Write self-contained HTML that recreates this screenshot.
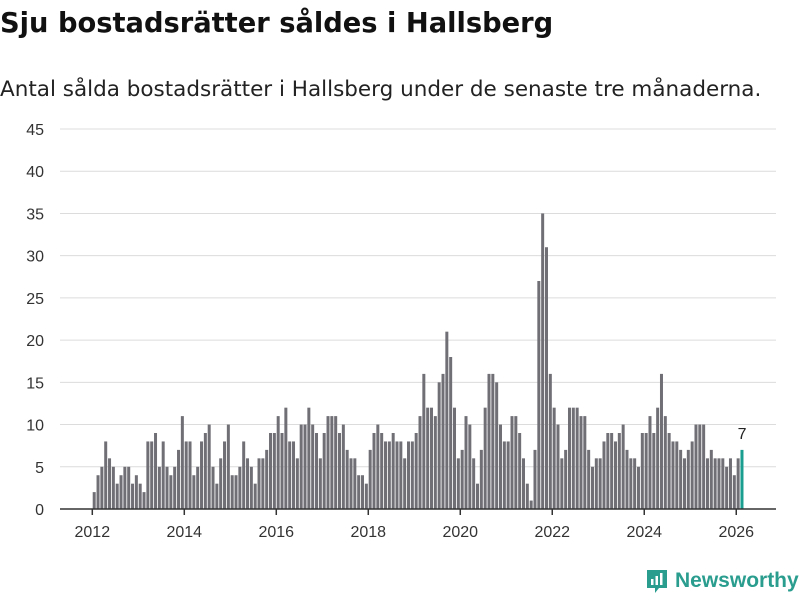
<!DOCTYPE html>
<html><head><meta charset="utf-8">
<style>
body{margin:0;background:#fff;font-family:"Liberation Sans",sans-serif;}
#wrap{position:relative;width:800px;height:600px;overflow:hidden;}
h1{position:absolute;left:0;top:8px;margin:0;font-family:"DejaVu Sans",sans-serif;font-size:27.3px;font-weight:bold;color:#111;}
p.sub{position:absolute;left:0;top:77px;margin:0;font-family:"DejaVu Sans",sans-serif;font-size:21.5px;color:#222;}
#logo{position:absolute;left:645px;top:568px;display:flex;align-items:center;}
#logo span{font-size:21px;font-weight:bold;color:#2a9d8f;margin-left:6px;}
</style></head><body>
<div id="wrap">
<h1>Sju bostadsrätter såldes i Hallsberg</h1>
<p class="sub">Antal sålda bostadsrätter i Hallsberg under de senaste tre månaderna.</p>
<svg id="chart" width="800" height="600" style="position:absolute;left:0;top:0"></svg>
<div id="logo">
<svg width="24" height="26" viewBox="0 0 24 26"><path d="M2 2h20v18h-8l-4 5v-5H2z" fill="#2a9d8f"/><rect x="6" y="11" width="2.5" height="6" fill="#fff"/><rect x="10.5" y="8" width="2.5" height="9" fill="#fff"/><rect x="15" y="5" width="2.5" height="12" fill="#fff"/></svg>
<span>Newsworthy</span></div>
</div>
<script>
const startYear = 2012;
const values = [2,4,5,8,6,5,3,4,5,5,3,4,
3,2,8,8,9,5,8,5,4,5,7,11,
8,8,4,5,8,9,10,5,3,6,8,10,
4,4,5,8,6,5,3,6,6,7,9,9,
11,9,12,8,8,6,10,10,12,10,9,6,
9,11,11,11,9,10,7,6,6,4,4,3,
7,9,10,9,8,8,9,8,8,6,8,8,
9,11,16,12,12,11,15,16,21,18,12,6,
7,11,10,6,3,7,12,16,16,15,10,8,
8,11,11,9,6,3,1,7,27,35,31,16,
12,10,6,7,12,12,12,11,11,7,5,6,
6,8,9,9,8,9,10,7,6,6,5,9,
9,11,9,12,16,11,9,8,8,7,6,7,
8,10,10,10,6,7,6,6,6,5,6,4,
6,7];
const yTicks = [0,5,10,15,20,25,30,35,40,45];
const xTickYears = [2012,2014,2016,2018,2020,2022,2024,2026];
const NS="http://www.w3.org/2000/svg";
const svg=document.getElementById('chart');
const y0=509, yTop=129, yMax=45;
function y(v){return y0-(y0-yTop)*v/yMax;}
function xMonth(k){return 92.3+3.833*k;}
function xYear(yr){return xMonth((yr-startYear)*12);}
function mk(t,a){const e=document.createElementNS(NS,t);for(const k in a)e.setAttribute(k,a[k]);svg.appendChild(e);return e;}
yTicks.forEach(v=>{
  if(v>0){const g=mk('line',{x1:60,x2:776,y1:y(v),y2:y(v),stroke:'#dcdcdc','stroke-width':1});
  
  }
  const t=mk('text',{x:44,y:y(v)+6,'text-anchor':'end','font-size':16,fill:'#333','font-family':'Liberation Sans, sans-serif'});
  t.textContent=v;
  
  
});
values.forEach((v,k)=>{
  const last=k===values.length-1;
  const r=mk('rect',{x:xMonth(k)+0.4,y:y(v),width:3.0,height:y0-y(v),fill:last?'#1a9e8f':'#706f76'});
  
  
  if(last){const t=mk('text',{x:xMonth(k)+2,y:y(v)-11,'text-anchor':'middle','font-size':16,fill:'#222','font-family':'Liberation Sans, sans-serif'});
  t.textContent=v;
  
  }
});
const ax=mk('line',{x1:60,x2:776,y1:y0,y2:y0,stroke:'#333','stroke-width':1.5});


xTickYears.forEach(yr=>{
  const tk=mk('line',{x1:xYear(yr),x2:xYear(yr),y1:y0,y2:y0+6,stroke:'#333','stroke-width':1.5});
  
  
  const t=mk('text',{x:xYear(yr),y:y0+28,'text-anchor':'middle','font-size':16,fill:'#333','font-family':'Liberation Sans, sans-serif'});
  t.textContent=yr;
  
  
});
</script>
</body></html>
